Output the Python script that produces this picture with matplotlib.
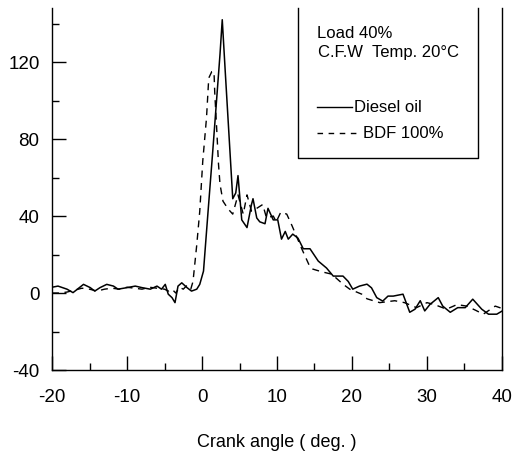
import matplotlib
matplotlib.use('Agg')
import matplotlib.pyplot as plt
from matplotlib.ticker import MultipleLocator

plt.rcParams['font.family'] = ['Liberation Sans', 'DejaVu Sans']
plt.rcParams['axes.unicode_minus'] = False

# Diesel oil (solid)
diesel_x = [-20, -19.2, -18, -17.2, -15.8, -14.9, -14.3, -13.6, -12.7, -11.8, -11.2, -10,
            -8.9, -8, -6.9, -6, -5.4, -4.9, -4.5, -4.0, -3.6, -3.2, -2.7, -2.0, -1.4, -0.7,
            -0.3, 0.2, 0.8, 1.4, 1.9, 2.4, 2.7, 3.1, 3.6, 4.1, 4.5, 4.8, 5.3, 6.0, 6.6, 6.8,
            7.3, 7.7, 8.4, 8.8, 9.5, 10.1, 10.6, 11.1, 11.5, 12.1, 12.8, 13.5, 14.4, 15.5,
            16.6, 17.5, 18.8, 19.5, 20.1, 21, 22, 22.6, 23.3, 24.1, 24.8, 25.5, 26.8, 27.7,
            28.4, 29.1, 29.7, 30.4, 31.5, 32.1, 33.1, 34.1, 35.1, 36.1, 37.3, 38.2, 39.3, 40]
diesel_p = [3, 3.6, 2, 0.2, 4.5, 2.8, 1, 2.8, 4.5, 3.6, 2, 2.8,
            3.6, 2.8, 2, 3.6, 2, 4.5, -0.6, -2.4, -5, 3.6, 5.3, 2.8, 1, 2,
            4.5, 11.4, 42, 72, 98, 124, 142, 115, 82, 49, 52, 61, 38, 34, 46, 49,
            39, 37, 36, 44, 38, 38, 28, 32, 28, 30.6, 28.5, 23, 23, 16.6,
            13, 8.8, 8.8, 6, 2, 3.6, 4.6, 2.7, -2.4, -4.2, -1.6, -1.6, -0.6, -10,
            -8.4, -4, -9.3, -5.9, -2.4, -6.8, -10, -7.6, -7.6, -3.2, -8.4, -11, -11, -9.4]

# BDF 100% (dashed)
bdf_x = [-20, -19, -18, -17, -16, -15, -14, -13, -12, -11, -10, -9, -8, -7, -6, -5,
         -4.5, -4, -3.5, -3, -2.5, -2, -1.5, -1.2, -0.7, -0.3, 0.1, 0.6, 0.9, 1.3, 1.6,
         1.7, 1.95, 2.2, 2.4, 2.8, 3.5, 4.1, 4.8, 5.5, 6.0, 6.6, 7.3, 8.1, 8.6, 9.5, 9.9,
         10.5, 11.3, 12, 13.3, 14.4, 14.8, 16, 17.3, 18.8, 19.7, 21.3, 22, 23.7, 25.7,
         27, 28.6, 30, 31, 32.6, 34, 35.3, 36.5, 37.5, 39.1, 40]
bdf_p = [0, 0, 0.5, 1.5, 2.5, 2, 1, 2, 2.5, 2, 3, 2.5, 2, 3, 2.5, 2,
         1, 2, 0, 3, 2, 4, 2, 6, 25, 42.5, 68.5, 91, 111.7, 115, 115,
         104, 86, 67, 56.5, 47.7, 43.6, 41, 51, 41, 51, 42.5, 44, 46, 39, 40, 37,
         42, 41, 35, 23, 13.5, 12.4, 11, 9.8, 4.6, 2, -0.6, -3, -5, -4,
         -5, -7.6, -5, -6, -8.4, -6, -6.8, -9, -11, -6.8, -8]

x_ticks = [-20, -10, 0, 10, 20, 30, 40]
y_ticks = [-40, 0, 40, 80, 120]

fig = plt.figure(figsize=(5.18, 4.54), dpi=100)
ax = fig.add_axes([0.1004, 0.185, 0.8687, 0.797])

ax.plot(diesel_x, diesel_p, color='black', linewidth=1.1)
ax.plot(bdf_x, bdf_p, color='black', linewidth=1.0, linestyle=(0, (5, 4)))

ax.set_xlim(-20, 40)
ax.set_ylim(-40, 148)
ax.set_xticks(x_ticks)
ax.set_yticks(y_ticks)
ax.xaxis.set_minor_locator(MultipleLocator(5))
ax.yaxis.set_minor_locator(MultipleLocator(20))
ax.tick_params(which='major', direction='in', length=10, width=1.0, labelsize=13.5)
ax.tick_params(which='minor', direction='in', length=5, width=1.0)
ax.tick_params(axis='x', which='major', pad=14)
ax.tick_params(axis='y', which='major', pad=9)

ax.spines['top'].set_visible(False)
for s in ['left', 'bottom', 'right']:
    ax.spines[s].set_linewidth(1.0)

ax.set_xlabel('Crank angle ( deg. )', fontsize=13, labelpad=20)

# legend box (open at the top)
bx0, bx1, by0 = 0.547, 0.947, 0.586
ax.plot([bx0, bx0, bx1, bx1], [1, by0, by0, 1], color='black', linewidth=1.0,
        transform=ax.transAxes, clip_on=False)
ax.text(0.589, 0.931, 'Load 40%', transform=ax.transAxes, fontsize=12, va='center')
ax.text(0.591, 0.878, 'C.F.W  Temp. 20°C', transform=ax.transAxes, fontsize=12,
        va='center')
ax.plot([0.589, 0.667], [0.7265, 0.7265], color='black', linewidth=1.0, transform=ax.transAxes)
ax.text(0.671, 0.7265, 'Diesel oil', transform=ax.transAxes, fontsize=12, va='center')
ax.plot([0.589, 0.675], [0.6547, 0.6547], color='black', linewidth=1.0,
        linestyle=(0, (4, 4)), transform=ax.transAxes)
ax.text(0.691, 0.6547, 'BDF 100%', transform=ax.transAxes, fontsize=12, va='center')

fig.savefig('out.png', dpi=100)
